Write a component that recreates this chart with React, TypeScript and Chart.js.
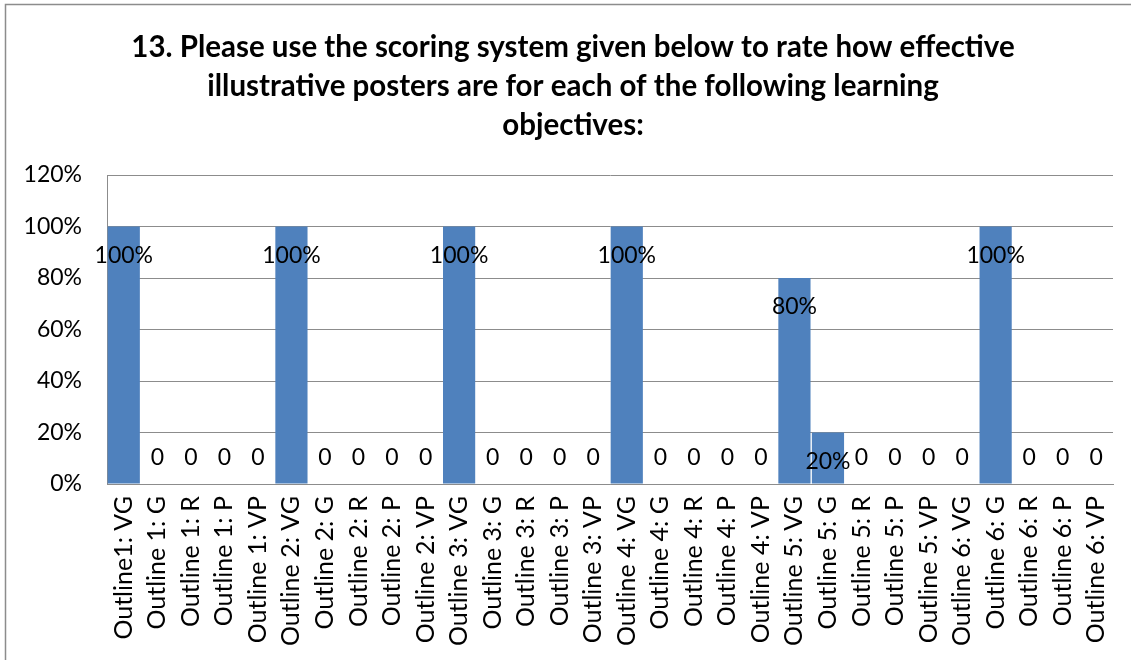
import React, { useEffect, useRef } from "react";
import { Chart, registerables } from "chart.js";

Chart.register(...registerables);

const titleLines = [
  "13. Please use the scoring system given below to rate how effective",
  "illustrative posters are for each of the following learning",
  "objectives:",
];

const categories = [
  "Outline1: VG", "Outline 1: G", "Outline 1: R", "Outline 1: P", "Outline 1: VP",
  "Outline 2: VG", "Outline 2: G", "Outline 2: R", "Outline 2: P", "Outline 2: VP",
  "Outline 3: VG", "Outline 3: G", "Outline 3: R", "Outline 3: P", "Outline 3: VP",
  "Outline 4: VG", "Outline 4: G", "Outline 4: R", "Outline 4: P", "Outline 4: VP",
  "Outline 5: VG", "Outline 5: G", "Outline 5: R", "Outline 5: P", "Outline 5: VP",
  "Outline 6: VG", "Outline 6: G", "Outline 6: R", "Outline 6: P", "Outline 6: VP",
];

const values = [
  1, 0, 0, 0, 0,
  1, 0, 0, 0, 0,
  1, 0, 0, 0, 0,
  1, 0, 0, 0, 0,
  0.8, 0.2, 0, 0, 0,
  0, 1, 0, 0, 0,
];

const yTicks = [0, 0.2, 0.4, 0.6, 0.8, 1.0, 1.2];

const FONT = "Lato, 'Open Sans', sans-serif";
const GRID = "#8c8c8c";

const titlePlugin = {
  id: "customTitle",
  beforeDraw(chart: any) {
    const ctx = chart.ctx;
    ctx.save();
    ctx.fillStyle = "#ffffff";
    ctx.fillRect(0, 0, chart.width, chart.height);
    // outer frame
    ctx.strokeStyle = GRID;
    ctx.lineWidth = 1.5;
    ctx.beginPath();
    ctx.moveTo(5.5, chart.height + 5);
    ctx.lineTo(5.5, 4.5);
    ctx.lineTo(chart.width + 5, 4.5);
    ctx.stroke();
    ctx.fillStyle = "#000000";
    ctx.font = `bold 29.5px ${FONT}`;
    ctx.textAlign = "center";
    ctx.textBaseline = "middle";
    const cx = 573;
    titleLines.forEach((t, i) => ctx.fillText(t, cx, 47 + i * 39));
    ctx.restore();
  },
};

const labelPlugin = {
  id: "valueLabels",
  afterDatasetsDraw(chart: any) {
    const ctx = chart.ctx;
    const meta = chart.getDatasetMeta(0);
    const base = chart.scales.y.getPixelForValue(0);
    ctx.save();
    ctx.fillStyle = "#000000";
    ctx.font = `23px ${FONT}`;
    ctx.textAlign = "center";
    ctx.textBaseline = "middle";
    meta.data.forEach((bar: any, i: number) => {
      const v = values[i];
      const txt = v > 0 ? `${Math.round(v * 100)}%` : "0";
      const y = v > 0 ? bar.y + 29 : base - 26;
      ctx.fillText(txt, bar.x, y);
    });
    ctx.restore();
  },
};

export default function App() {
  const ref = useRef<HTMLCanvasElement>(null);
  useEffect(() => {
    if (!ref.current) return;
    const chart = new Chart(ref.current, {
      type: "bar",
      data: {
        labels: categories,
        datasets: [
          {
            data: values,
            backgroundColor: "#4F81BD",
            borderWidth: 0,
            barPercentage: 0.96,
            categoryPercentage: 1,
          },
        ],
      },
      options: {
        animation: false,
        responsive: false,
        maintainAspectRatio: false,
        layout: { padding: { top: 175, right: 18, left: 0, bottom: 0 } },
        plugins: {
          legend: { display: false },
          title: { display: false },
          tooltip: { enabled: false },
        },
        scales: {
          x: {
            grid: { display: false, drawTicks: false },
            border: { display: true, color: GRID, width: 1 },
            ticks: {
              autoSkip: false,
              maxRotation: 90,
              minRotation: 90,
              padding: 12,
              color: "#000000",
              font: { family: FONT, size: 25 },
            },
            afterFit(scale: any) {
              scale.height = 176;
              scale.paddingLeft = 0;
              scale.paddingRight = 0;
            },
          },
          y: {
            min: 0,
            max: 1.2,
            afterBuildTicks(scale: any) {
              scale.ticks = yTicks.map((v) => ({ value: v }));
            },
            grid: { color: GRID, lineWidth: 1, drawTicks: false },
            border: { display: true, color: GRID, width: 1 },
            ticks: {
              padding: 25,
              color: "#000000",
              font: { family: FONT, size: 23 },
              callback: (v: any) => `${Math.round(Number(v) * 100)}%`,
            },
            afterFit(scale: any) {
              scale.width = 107;
              scale.paddingTop = 0;
              scale.paddingBottom = 0;
            },
          },
        },
      },
      plugins: [titlePlugin, labelPlugin],
    });
    return () => chart.destroy();
  }, []);
  return (
    <div style={{ position: "fixed", left: 0, top: 0 }}>
      <canvas ref={ref} width={1131} height={660} style={{ display: "block" }} />
    </div>
  );
}
